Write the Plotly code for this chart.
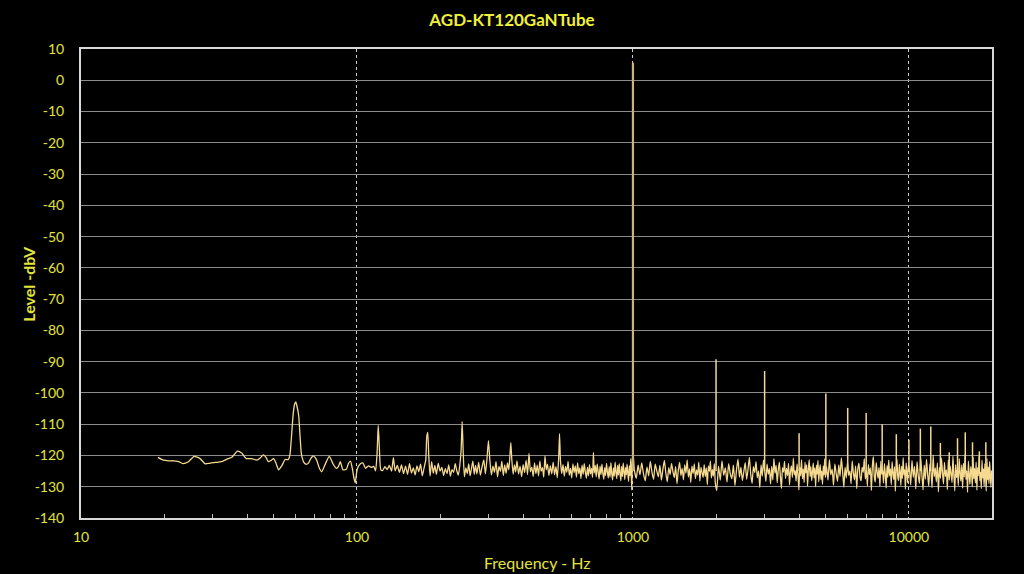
import pandas as pd
import plotly.graph_objects as go


# spectrum of the amp at 1 kHz
title = 'AGD-KT120GaNTube'

# below 100 Hz (smooth, with the 60 Hz hum bump)
low_freq = [19, 19.9, 20.8, 21.6, 22.6, 23.4, 24.5, 25.7, 27.0, 28.2,
            29.2, 30.2, 31.5, 32.7, 33.8, 35.2, 36.9, 38.3, 39.7, 41.5,
            43.3, 44.6, 45.8, 46.8, 47.7, 48.8, 49.9, 51.0, 52.0, 53.5,
            54.9, 56.4, 57.2, 58.0, 58.8, 59.4, 60.0, 60.7, 61.5, 62.2,
            62.9, 64.2, 65.3, 66.5, 68.0, 69.3, 70.5, 71.6, 73.0, 74.5,
            76.9, 79.3, 80.6, 82.0, 84.2, 85.6, 87.0, 89.0, 91.5, 93.2,
            94.7, 96.3, 97.4, 98.5, 100.2]
low_level = [-120.6, -121.5, -121.7, -121.7, -122.0, -122.6, -122.0, -120.3, -121.0, -122.7,
             -122.5, -122.3, -122.1, -121.8, -121.2, -120.6, -118.6, -119.3, -121.0, -121.0,
             -121.5, -120.8, -119.8, -120.6, -122.0, -121.6, -121.0, -122.7, -124.6, -123.2,
             -121.3, -121.3, -119.6, -113.0, -106.3, -103.7, -102.9, -104.5, -107.3, -114.0,
             -119.6, -122.2, -122.8, -122.6, -121.0, -120.1, -120.6, -121.7, -124.0, -125.2,
             -122.6, -120.3, -121.3, -122.8, -124.1, -123.6, -122.0, -124.6, -124.4, -122.5,
             -121.8, -124.4, -127.0, -128.8, -124.4]

# 100 Hz - 1 kHz (hum harmonics at 120/180/240/300... Hz)
mid_freq = [102.5, 105, 107.5, 110, 112.8, 115, 116.8, 118.3, 119.4, 120.6,
            122, 124, 126.3, 128.6, 131, 133.5, 135.5, 137.5, 140, 142.5,
            145, 147.5, 150, 152.5, 155, 157.5, 160, 162.5, 165, 167.5,
            170, 172.5, 175, 177.5, 179, 180.5, 182, 184, 186.5, 189,
            191.5, 194, 197, 200, 203, 206, 209, 212, 215, 218,
            221, 224, 227, 230, 233, 236, 238.5, 240.5, 242.5, 245,
            248, 251, 254, 257, 260, 263, 266, 269, 272, 276,
            280, 284, 288, 292, 296, 299.5, 303, 307, 311, 315,
            319, 323, 327, 331, 335, 339, 343, 347, 351, 355,
            358, 361, 364, 368, 372, 376, 380, 385, 390, 395,
            400, 405, 410, 415, 420, 425, 430, 435, 440, 445,
            450, 455, 460, 465, 470, 475, 480, 485, 490, 496,
            502, 508, 514, 520, 526, 532, 538, 542, 546, 552,
            558, 564, 570, 576, 582, 588, 594, 600, 606, 612,
            618, 624, 630, 636, 642, 648, 654, 660, 666, 672,
            678, 684, 690, 696, 702, 708, 714, 719, 724, 730,
            736, 742, 748, 754, 760, 766, 772, 778, 784, 790,
            796, 802, 808, 814, 820, 826, 832, 838, 844, 850,
            856, 862, 868, 874, 880, 886, 892, 898, 904, 910,
            916, 922, 928, 934, 940, 946, 952, 958, 964, 970,
            976, 982, 986, 990, 994, 997]
mid_level = [-122.8, -122.4, -124.1, -123.3, -123.8, -123.5, -124.9, -119, -110.4, -118,
             -124.6, -124.8, -123.6, -124.5, -123.2, -125, -120.7, -124.9, -123.2, -125.4,
             -123, -125.8, -123.4, -126, -122.6, -125.6, -124, -126.2, -123.3, -125.2,
             -122.8, -126.5, -124, -121.5, -114, -112.6, -120, -126.6, -122, -125.7,
             -123.2, -126, -122.5, -125, -123.8, -126.4, -124.2, -125.8, -123, -126.6,
             -124.5, -125.4, -122.6, -124.9, -126.3, -122.9, -118, -109.2, -118.5, -126.8,
             -124, -125.8, -122.7, -126.5, -124.1, -121.8, -126, -123.2, -125.9, -122.2,
             -126.3, -123.6, -121.4, -125.9, -120.8, -115.3, -121.5, -126.2, -123.4, -125.4,
             -122, -126.8, -123.5, -125.1, -121.9, -126.4, -123, -125.7, -122.4, -124.6,
             -120.5, -115.9, -121.4, -126, -123, -125.2, -121.7, -125.9, -123.4, -126.8,
             -122.9, -125.5, -121.6, -126.1, -119.3, -125.2, -123.7, -126.7, -122.4, -125.8,
             -123.1, -126.5, -121.8, -125, -123.9, -126.9, -120.1, -124.6, -122.8, -126.4,
             -123.3, -125.9, -122.1, -126.2, -123.6, -127.1, -121, -113, -121.5, -125.8,
             -122.9, -126.6, -123.5, -125.4, -121.9, -126.3, -124.1, -127.2, -122.7, -125.5,
             -123.3, -126.9, -122.4, -125.8, -124, -127.4, -123.1, -126, -122.6, -125.3,
             -127.3, -123.8, -126.5, -122.9, -125.9, -124.1, -127, -119, -125.6, -123.2,
             -126.8, -122.7, -125.2, -127.5, -123.4, -126.1, -122.8, -125.7, -127.6, -123.9,
             -126.4, -122.5, -125.3, -127.2, -123.6, -126.9, -122.3, -125.8, -127.8, -124,
             -126.6, -122.1, -125.5, -127.4, -123.2, -126.3, -122.6, -125.9, -128.1, -123.5,
             -126.7, -122.4, -125.1, -127.7, -123.9, -126.2, -122.8, -125.6, -128.3, -123.3,
             -126.5, -121, -125.9, -131, -124, -120]

# 1 - 2 kHz noise floor
band1_freq = [1003, 1012, 1028, 1044, 1060, 1076, 1092, 1108, 1124, 1140,
              1156, 1172, 1188, 1204, 1220, 1236, 1252, 1268, 1284, 1300,
              1316, 1332, 1348, 1364, 1380, 1396, 1412, 1428, 1444, 1460,
              1476, 1492, 1508, 1524, 1540, 1556, 1572, 1588, 1604, 1620,
              1636, 1652, 1668, 1684, 1700, 1716, 1732, 1748, 1764, 1780,
              1796, 1812, 1828, 1844, 1860, 1876, 1892, 1908, 1924, 1940,
              1956, 1972, 1988]
band1_level = [-120.5, -124.8, -127.3, -123.1, -126.2, -122.4, -125.9, -128.1, -123.7, -126.5,
               -121.9, -125.4, -127.6, -122.8, -124.9, -126.8, -123.2, -127.9, -124.4, -121.6,
               -125.7, -128.4, -123.9, -126.1, -122.5, -125.2, -127.1, -123.6, -129.0, -124.7,
               -122.2, -126.4, -124.1, -127.8, -123.0, -125.6, -121.4, -126.9, -124.3, -128.6,
               -123.4, -125.8, -122.7, -127.4, -124.6, -126.3, -122.1, -128.2, -123.8, -125.5,
               -127.0, -122.9, -126.7, -124.0, -129.3, -123.3, -125.1, -121.8, -127.2, -124.5,
               -126.6, -122.6, -128.8]

# 2 - 5 kHz noise floor
band2_freq = [2012, 2042, 2072, 2102, 2132, 2162, 2192, 2222, 2252, 2282,
              2312, 2342, 2372, 2402, 2432, 2462, 2492, 2522, 2552, 2582,
              2612, 2642, 2672, 2702, 2732, 2762, 2792, 2822, 2852, 2882,
              2912, 2942, 2972, 3002, 3032, 3062, 3092, 3122, 3152, 3182,
              3212, 3242, 3272, 3302, 3332, 3362, 3392, 3422, 3452, 3482,
              3512, 3542, 3572, 3602, 3632, 3662, 3692, 3722, 3752, 3782,
              3812, 3842, 3872, 3902, 3932, 3962, 3992, 4022, 4052, 4082,
              4112, 4142, 4172, 4202, 4232, 4262, 4292, 4322, 4352, 4382,
              4412, 4442, 4472, 4502, 4532, 4562, 4592, 4622, 4652, 4682,
              4712, 4742, 4772, 4802, 4832, 4862, 4892, 4922, 4952, 4982]
band2_level = [-131.2, -123.4, -127.9, -121.7, -126.3, -124.0, -128.5, -122.6, -125.8, -127.4,
               -123.1, -129.6, -124.7, -121.2, -126.9, -123.8, -128.0, -125.2, -122.3, -127.6,
               -124.4, -120.6, -126.1, -128.9, -123.6, -125.5, -122.0, -127.1, -124.9, -130.2,
               -123.0, -126.6, -121.5, -125.0, -128.3, -122.8, -126.0, -124.2, -129.1, -123.5,
               -127.8, -121.0, -125.7, -123.2, -128.7, -124.6, -122.1, -126.8, -130.5, -123.9,
               -125.3, -121.9, -127.3, -124.1, -126.4, -122.5, -129.4, -125.1, -123.3, -127.0,
               -120.9, -126.2, -124.8, -128.2, -122.7, -125.9, -131.0, -123.7, -126.5, -121.4,
               -127.5, -124.3, -128.6, -122.2, -125.6, -123.0, -129.8, -124.5, -121.3, -126.7,
               -123.6, -128.1, -125.4, -122.4, -127.2, -124.0, -130.0, -123.1, -126.0, -121.6,
               -128.4, -124.8, -122.9, -127.7, -125.0, -129.2, -123.4, -126.3, -121.1, -127.0]

# 5 - 10 kHz noise floor
band3_freq = [5030, 5090, 5150, 5210, 5270, 5330, 5390, 5450, 5510, 5570,
              5630, 5690, 5750, 5810, 5870, 5930, 5990, 6050, 6110, 6170,
              6230, 6290, 6350, 6410, 6470, 6530, 6590, 6650, 6710, 6770,
              6830, 6890, 6950, 7010, 7070, 7130, 7190, 7250, 7310, 7370,
              7430, 7490, 7550, 7610, 7670, 7730, 7790, 7850, 7910, 7970,
              8030, 8090, 8150, 8210, 8270, 8330, 8390, 8450, 8510, 8570,
              8630, 8690, 8750, 8810, 8870, 8930, 8990, 9050, 9110, 9170,
              9230, 9290, 9350, 9410, 9470, 9530, 9590, 9650, 9710, 9770,
              9830, 9890, 9950]
band3_level = [-123.6, -127.9, -121.3, -126.2, -124.4, -129.5, -122.7, -125.8, -128.3, -123.0,
               -126.7, -120.8, -125.1, -130.1, -123.8, -127.2, -122.1, -126.4, -124.9, -129.0,
               -121.7, -125.6, -127.8, -123.3, -130.6, -124.2, -122.5, -126.9, -128.1, -123.7,
               -125.4, -121.0, -127.5, -124.6, -129.7, -122.9, -126.1, -124.0, -131.2, -123.5,
               -120.4, -126.6, -128.5, -122.3, -125.2, -127.3, -123.9, -129.9, -121.8, -126.0,
               -124.7, -128.8, -122.6, -125.9, -130.4, -123.2, -127.0, -121.5, -126.5, -124.3,
               -129.3, -122.0, -125.5, -127.7, -123.6, -131.5, -124.1, -121.2, -126.8, -128.0,
               -122.8, -125.3, -129.6, -123.4, -127.4, -120.7, -126.3, -124.5, -130.8, -122.4,
               -125.7, -128.7, -123.1]

# 10 - 20 kHz noise floor
band4_freq = [10040, 10150, 10260, 10370, 10480, 10590, 10700, 10810, 10920, 11030,
              11140, 11250, 11360, 11470, 11580, 11690, 11800, 11910, 12020, 12130,
              12240, 12350, 12460, 12570, 12680, 12790, 12900, 13010, 13120, 13230,
              13340, 13450, 13560, 13670, 13780, 13890, 14000, 14110, 14220, 14330,
              14440, 14550, 14660, 14770, 14880, 14990, 15100, 15210, 15320, 15430,
              15540, 15650, 15760, 15870, 15980, 16090, 16200, 16310, 16420, 16530,
              16640, 16750, 16860, 16970, 17080, 17190, 17300, 17410, 17520, 17630,
              17740, 17850, 17960, 18070, 18180, 18290, 18400, 18510, 18620, 18730,
              18840, 18950, 19060, 19170, 19280, 19390, 19500, 19610, 19720, 19830,
              19940]
band4_level = [-124.2, -129.4, -121.6, -127.0, -123.5, -130.7, -122.0, -126.4, -128.9, -120.6,
               -125.8, -131.0, -123.1, -127.6, -121.2, -126.1, -129.8, -122.7, -125.2, -130.3,
               -119.9, -126.8, -124.0, -128.4, -122.4, -131.6, -123.8, -127.3, -120.8, -125.5,
               -129.1, -122.2, -126.7, -124.6, -130.9, -121.4, -127.9, -123.3, -125.9, -128.6,
               -120.3, -126.2, -131.3, -122.9, -127.1, -124.4, -129.6, -121.0, -125.6, -128.2,
               -123.0, -130.5, -122.5, -126.9, -119.6, -127.7, -124.9, -131.8, -121.8, -126.3,
               -129.2, -123.6, -125.0, -130.0, -120.5, -127.4, -124.1, -128.8, -122.1, -131.1,
               -123.9, -126.5, -120.1, -128.1, -125.3, -130.6, -121.5, -127.2, -124.3, -129.9,
               -122.6, -126.0, -131.4, -120.9, -127.8, -123.7, -129.0, -121.9, -126.6, -130.2,
               -124.8]

# fundamental + harmonic spikes
fund_freq = [1000]
fund_level = [5.6]
harm_freq = [2000, 3000, 4000, 5000, 6000, 7000, 8000, 9000, 10000,
             11000, 12000, 13000, 14000, 15000, 16000, 17000, 18000, 19000]
harm_level = [-89.2, -93.0, -112.9, -100.2, -104.8, -106.4, -110.0, -113.2, -115.0,
              -111.4, -110.7, -116.0, -119.0, -114.5, -112.6, -115.8, -118.7, -115.8]
spike_floor = -125

x_ticks = [10, 100, 1000, 10000]
y_ticks = [10, 0, -10, -20, -30, -40, -50, -60, -70, -80, -90, -100, -110, -120, -130, -140]

floor = pd.concat([
    pd.DataFrame({'freq': f, 'level': l})
    for f, l in [(low_freq, low_level), (mid_freq, mid_level), (band1_freq, band1_level),
                 (band2_freq, band2_level), (band3_freq, band3_level), (band4_freq, band4_level)]
], ignore_index=True)

# vertical spikes, separated by gaps
spike_x, spike_y = [], []
for f, l in zip(harm_freq, harm_level):
    spike_x += [f, f, None]
    spike_y += [spike_floor, l, None]

yellow = '#e4e43c'
trace_col = '#f4d98e'

fig = go.Figure()
fig.add_trace(go.Scatter(x=floor['freq'], y=floor['level'], mode='lines',
                         line=dict(color=trace_col, width=1.3, shape='spline', smoothing=0.5),
                         showlegend=False))
fig.add_trace(go.Scatter(x=spike_x, y=spike_y, mode='lines',
                         line=dict(color=trace_col, width=1.5), showlegend=False))
fig.add_trace(go.Scatter(x=fund_freq * 2, y=[spike_floor] + fund_level, mode='lines',
                         line=dict(color='#cdb577', width=2.2), showlegend=False))

fig.update_layout(
    width=1024, height=574,
    paper_bgcolor='black', plot_bgcolor='black',
    margin=dict(l=81, r=32, t=49, b=56),
    font=dict(family='Lato, Open Sans, sans-serif', color=yellow, size=14),
    title=dict(text='<b>' + title + '</b>', x=0.5, xanchor='center', y=0.965, yanchor='middle',
               font=dict(size=17, color='#f0f03a')),
)
fig.update_xaxes(
    type='log', range=[1, 4.30103], automargin=False,
    tickvals=x_ticks, ticktext=[str(v) for v in x_ticks],
    ticks='', ticklabelstandoff=5,
    minor=dict(tickvals=[20, 30, 40, 50, 60, 70, 80, 90,
                         200, 300, 400, 500, 600, 700, 800, 900,
                         2000, 3000, 4000, 5000, 6000, 7000, 8000, 9000],
               ticks='inside', ticklen=4, tickcolor='#bdbdbd', showgrid=False),
    showgrid=True, gridcolor='#cfcfcf', griddash='dot', gridwidth=1,
    showline=True, linecolor='#d8d8d8', linewidth=2, mirror=True,
    zeroline=False,
)
fig.update_yaxes(
    range=[-140, 10], automargin=False,
    tickvals=y_ticks, ticktext=[str(v) for v in y_ticks],
    ticks='', ticklabelstandoff=12,
    showgrid=True, gridcolor='#8c8c8c', gridwidth=1,
    showline=True, linecolor='#d8d8d8', linewidth=2, mirror=True,
    zeroline=False,
)

# axis titles placed as annotations for exact positioning
fig.add_annotation(text='Frequency - Hz', xref='paper', yref='paper', x=0.5, y=-0.094,
                   xanchor='center', yanchor='middle', showarrow=False, font=dict(size=16))
fig.add_annotation(text='<b>Level -dbV</b>', xref='paper', yref='paper', x=-0.058, y=0.5,
                   xanchor='center', yanchor='middle', textangle=-90, showarrow=False,
                   font=dict(size=16))

# page margin off so the chart sits flush in the window; no toolbar
fig.write_html('out.html', config={'displayModeBar': False},
               post_script="document.body.style.margin='0';document.body.style.background='black';")
